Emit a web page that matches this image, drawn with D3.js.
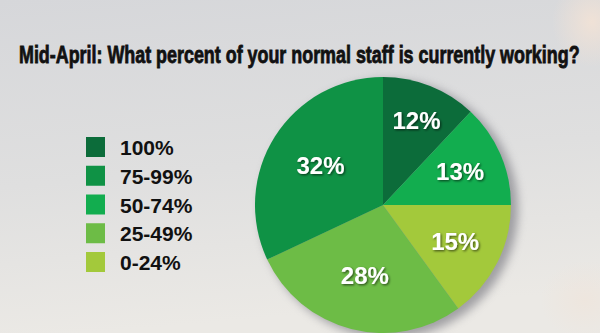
<!DOCTYPE html>
<html>
<head>
<meta charset="utf-8">
<script src="https://cdn.jsdelivr.net/npm/d3@7"></script>
<style>
  html, body { margin: 0; padding: 0; background: #dcdcdc; }
  svg { display: block; }
</style>
</head>
<body>
<svg id="chart" width="600" height="333"></svg>
<script>
// Survey: share of normal staff currently working (mid-April)
const title = "Mid-April: What percent of your normal staff is currently working?";
const categories = ["100%", "75-99%", "50-74%", "25-49%", "0-24%"];
const shares = [12, 32, 13, 28, 15];
const colors = ["#0c6c3a", "#0f9245", "#12ad4f", "#6dbc46", "#a3c93b"];
// order the slices are laid out clockwise from 12 o'clock
const sliceOrder = ["100%", "50-74%", "0-24%", "25-49%", "75-99%"];
// distance of each slice's label from the pie centre
const labelRadius = {"100%": 91, "50-74%": 84, "0-24%": 81, "25-49%": 73, "75-99%": 74};

const W = 600, H = 333;
const svg = d3.select("#chart");
const defs = svg.append("defs");

// sky-like backdrop
const bg = defs.append("linearGradient").attr("id", "bg")
  .attr("x1", 0).attr("y1", 0).attr("x2", 0.15).attr("y2", 1);
bg.append("stop").attr("offset", "0%").attr("stop-color", "#d6d7da");
bg.append("stop").attr("offset", "55%").attr("stop-color", "#dfdfdf");
bg.append("stop").attr("offset", "100%").attr("stop-color", "#ebe9e5");
svg.append("rect").attr("width", W).attr("height", H).attr("fill", "url(#bg)");

const glow = defs.append("radialGradient").attr("id", "glow");
glow.append("stop").attr("offset", "0%").attr("stop-color", "#f1e2d6").attr("stop-opacity", 0.95);
glow.append("stop").attr("offset", "100%").attr("stop-color", "#f1e2d6").attr("stop-opacity", 0);
svg.append("ellipse").attr("cx", 592).attr("cy", 22).attr("rx", 40).attr("ry", 45).attr("fill", "url(#glow)");
svg.append("ellipse").attr("cx", 585).attr("cy", 300).attr("rx", 45).attr("ry", 40).attr("fill", "url(#glow)").attr("opacity", 0.5);

// soft shadows
const pieShadow = defs.append("filter").attr("id", "pieShadow")
  .attr("x", "-30%").attr("y", "-30%").attr("width", "160%").attr("height", "160%");
pieShadow.append("feGaussianBlur").attr("stdDeviation", 5);

const txtShadow = defs.append("filter").attr("id", "txtShadow")
  .attr("x", "-20%").attr("y", "-30%").attr("width", "150%").attr("height", "170%");
txtShadow.append("feDropShadow").attr("dx", 1.2).attr("dy", 1.2)
  .attr("stdDeviation", 0.9).attr("flood-color", "#000").attr("flood-opacity", 0.6);

// title, squeezed horizontally into a heavy condensed look
const titleG = svg.append("g");
const titleText = titleG.append("text")
  .attr("x", 0).attr("y", 0)
  .style("font-family", "'Liberation Sans Narrow', 'Arial Narrow', 'Liberation Sans', sans-serif")
  .style("font-weight", "bold").style("font-size", "23px")
  .attr("fill", "#111").attr("stroke", "#111").attr("stroke-width", 0.8)
  .text(title);
const natural = titleText.node().getComputedTextLength();
titleG.attr("transform", `translate(19,62.5) scale(${561 / natural},1)`);

// legend
const color = d3.scaleOrdinal().domain(categories).range(colors);
const legendY = d3.scalePoint().domain(categories).range([147, 262]);
const legend = svg.append("g");
const item = legend.selectAll("g").data(categories).join("g")
  .attr("transform", d => `translate(0,${legendY(d)})`);
item.append("rect").attr("x", 86).attr("y", -10).attr("width", 19).attr("height", 20)
  .attr("fill", d => color(d));
item.append("text").attr("x", 120).attr("y", 8)
  .style("font-family", "'Liberation Sans', Arial, sans-serif")
  .style("font-weight", "bold").style("font-size", "21px").attr("fill", "#111")
  .text(d => d);

// pie
const cx = 383, cy = 205, R = 128;
const valueOf = Object.fromEntries(categories.map((c, i) => [c, shares[i]]));
const pieData = d3.pie().sort(null).value(d => valueOf[d])(sliceOrder);
const arc = d3.arc().innerRadius(0).outerRadius(R);
const labelPos = d => d3.arc().innerRadius(labelRadius[d.data]).outerRadius(labelRadius[d.data]).centroid(d);

const g = svg.append("g").attr("transform", `translate(${cx},${cy})`);
g.append("circle").attr("cx", 6).attr("cy", 4).attr("r", R + 1)
  .attr("fill", "#6f6f78").attr("opacity", 0.6).attr("filter", "url(#pieShadow)");
g.selectAll("path.slice").data(pieData).join("path").attr("class", "slice")
  .attr("d", arc).attr("fill", d => color(d.data));
g.selectAll("text.lbl").data(pieData).join("text").attr("class", "lbl")
  .attr("transform", d => `translate(${labelPos(d)})`)
  .attr("text-anchor", "middle").attr("dy", "0.36em")
  .style("font-family", "'Liberation Sans', Arial, sans-serif")
  .style("font-weight", "bold").style("font-size", "24px").attr("fill", "#fff")
  .attr("filter", "url(#txtShadow)")
  .text(d => valueOf[d.data] + "%");
</script>
</body>
</html>
